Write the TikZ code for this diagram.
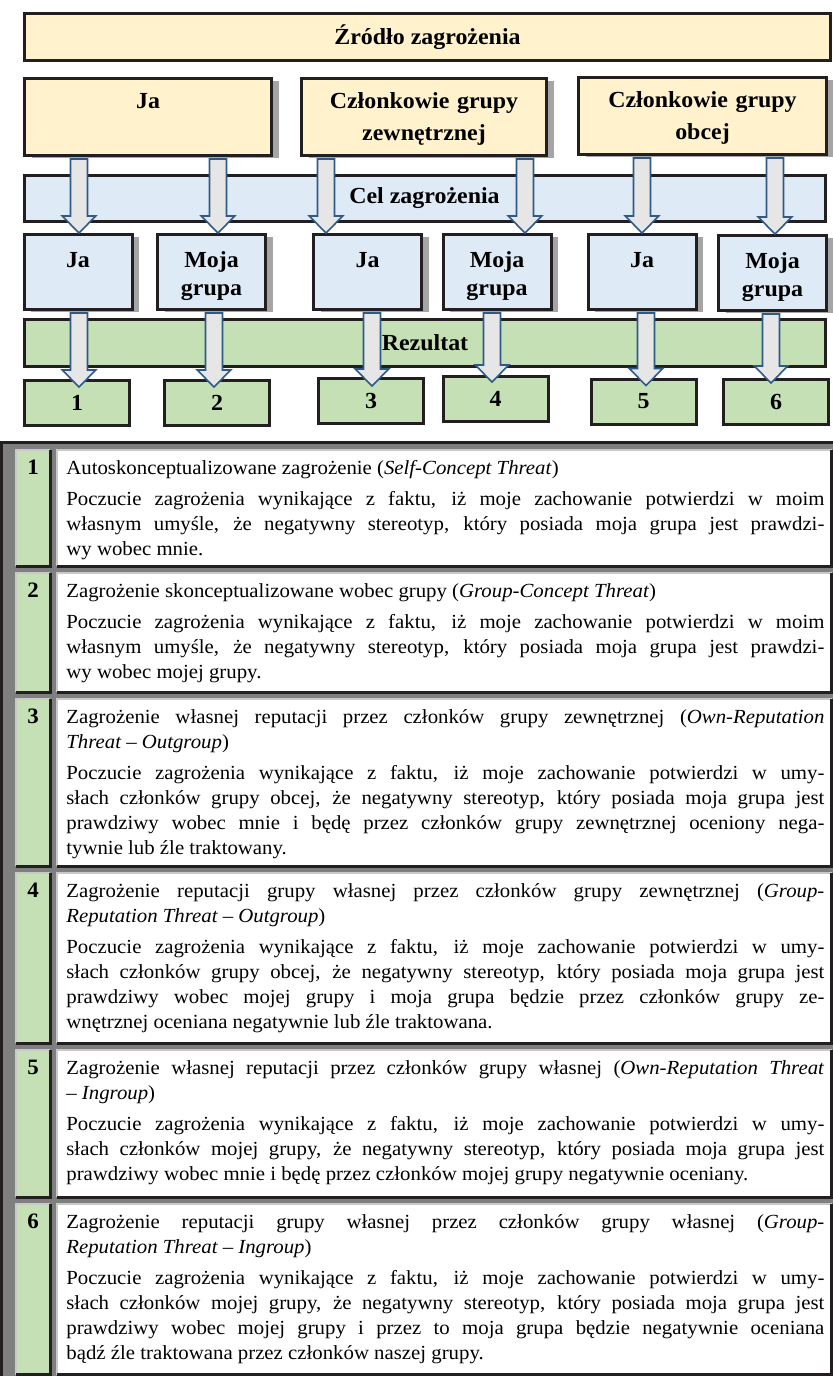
\documentclass[tikz,border=0pt]{standalone}
\usepackage{fontspec}
\setmainfont{Liberation Serif}[FakeStretch=1.04]
\usepackage{tikz}
\usetikzlibrary{positioning,calc,shadows}
\definecolor{srcYellow}{HTML}{FFF2CC}
\definecolor{tgtBlue}{HTML}{DEEBF7}
\definecolor{resGreen}{HTML}{C5E0B4}
\definecolor{edgeDark}{HTML}{231F20}
\definecolor{shadowGray}{HTML}{A5A5A5}
\definecolor{arrowFill}{HTML}{E7E6E6}
\definecolor{arrowLine}{HTML}{2E5A88}
\definecolor{tabGray}{HTML}{7F7F7F}
\definecolor{tabLight}{HTML}{C9C9C9}
\tolerance=10000
\hbadness=10000
\hyphenpenalty=10000

\tikzset{
  bar/.style={draw=edgeDark, line width=1.5pt, inner sep=0pt, font=\fontsize{11.5}{14}\selectfont\bfseries},
  boxshadow/.style={drop shadow={shadow xshift=3.5pt, shadow yshift=-1pt, fill=shadowGray, opacity=1}},
  srcbox/.style={draw=edgeDark, fill=srcYellow, line width=1.5pt, inner sep=0pt, align=center,
    text height=14.75pt, text depth=23.75pt, font=\fontsize{11.5}{16}\selectfont\bfseries, boxshadow},
  tgtbox/.style={draw=edgeDark, fill=tgtBlue, line width=1.5pt, inner sep=0pt, align=center, text width=54pt,
    text height=16.25pt, text depth=21.25pt, font=\fontsize{11.5}{14}\selectfont\bfseries, boxshadow},
  resbox/.style={draw=edgeDark, fill=resGreen, line width=1.5pt, inner sep=0pt, minimum width=52.5pt,
    minimum height=22.5pt, font=\fontsize{11.5}{14}\selectfont\bfseries},
  blockarrow/.style={fill=arrowFill, draw=arrowLine, line width=0.8pt, line join=miter},
  desc/.style={anchor=north west, inner sep=0pt, text width=379pt, align=justify, font=\fontsize{10}{12.5}\selectfont},
  num/.style={anchor=base, inner sep=0pt, font=\fontsize{11}{12.5}\selectfont\bfseries},
  lightedge/.style={draw=tabLight, line width=1pt},
  darkedge/.style={draw=edgeDark, line width=1.5pt}
}

% block arrow: x, source node, target node, overlap of the tip
\newcommand{\bigarrow}[4]{%
  \path (#2.south -| #1,0) coordinate (s) (#3.north -| #1,0) coordinate (t);
  \draw[blockarrow] ($(s)+(-8.5,2)$) -- ($(t)+(-8.5,#4-17)$) -- ($(t)+(-16.75,#4-17)$) -- ($(t)+(0,#4)$)
    -- ($(t)+(16.75,#4-17)$) -- ($(t)+(8.5,#4-17)$) -- ($(s)+(8.5,2)$) -- cycle;
}

% table cell: x1, y1, x2, y2, fill
\newcommand{\tabcell}[5]{%
  \fill[#5] (#1,#2) rectangle (#3,#4);
  \draw[lightedge] (#1,#4) -- (#1,#2) -- (#3,#2);
  \draw[darkedge] (#1,#4) -- (#3,#4) -- (#3,#2);
}

\begin{document}
\begin{tikzpicture}[x=0.5pt, y=-0.5pt]
\useasboundingbox (0,0) rectangle (833,1376);

% source of the threat
\node[bar, fill=srcYellow, minimum width=403pt, minimum height=23.5pt] (zrodlo) at (427.5,37) {Źródło zagrożenia};
\node[srcbox, text width=123.5pt] (srcJa) at (148,117) {Ja};
\node[srcbox, text width=122.5pt] (srcZewn) at (424,117) {Członkowie grupy\\zewnętrznej};
\node[srcbox, text width=124pt] (srcObca) at (702.5,116) {Członkowie grupy\\obcej};

% target of the threat
\node[bar, fill=tgtBlue, minimum width=400.5pt, minimum height=23pt] (cel) at (424.5,198) {Cel zagrożenia};
\node[tgtbox] (tgtJa1) at (78,272) {Ja};
\node[tgtbox] (tgtGr1) at (211.5,272) {Moja\\grupa};
\node[tgtbox] (tgtJa2) at (367.5,272) {Ja};
\node[tgtbox] (tgtGr2) at (497,272) {Moja\\grupa};
\node[tgtbox] (tgtJa3) at (642,272) {Ja};
\node[tgtbox] (tgtGr3) at (772.5,273) {Moja\\grupa};

% result
\node[bar, fill=resGreen, minimum width=400.5pt, minimum height=23.5pt] (rezultat) at (425,342.5) {Rezultat};
\node[resbox] (res1) at (77,403) {1};
\node[resbox] (res2) at (217,403) {2};
\node[resbox] (res3) at (371,401) {3};
\node[resbox] (res4) at (495.5,399) {4};
\node[resbox] (res5) at (643.5,401.5) {5};
\node[resbox] (res6) at (776,402) {6};

\bigarrow{79}{srcJa}{tgtJa1}{0}
\bigarrow{218}{srcJa}{tgtGr1}{0}
\bigarrow{326}{srcZewn}{tgtJa2}{0}
\bigarrow{525}{srcZewn}{tgtGr2}{0}
\bigarrow{642}{srcObca}{tgtJa3}{0}
\bigarrow{775}{srcObca}{tgtGr3}{0}
\bigarrow{79}{tgtJa1}{res1}{8}
\bigarrow{214}{tgtGr1}{res2}{8}
\bigarrow{372}{tgtJa2}{res3}{9}
\bigarrow{492}{tgtGr2}{res4}{7}
\bigarrow{646}{tgtJa3}{res5}{8}
\bigarrow{771}{tgtGr3}{res6}{5}

% table of the six threats
\fill[tabGray] (0,441) rectangle (833,1376);
\draw[darkedge] (1.5,1376) -- (1.5,442.5) -- (833,442.5);
\tabcell{16}{450}{50}{566}{resGreen}
\tabcell{57}{450}{831.5}{566}{white}
\tabcell{16}{573}{50}{692}{resGreen}
\tabcell{57}{573}{831.5}{692}{white}
\tabcell{16}{699}{50}{866}{resGreen}
\tabcell{57}{699}{831.5}{866}{white}
\tabcell{16}{873}{50}{1043}{resGreen}
\tabcell{57}{873}{831.5}{1043}{white}
\tabcell{16}{1050}{50}{1197}{resGreen}
\tabcell{57}{1050}{831.5}{1197}{white}
\tabcell{16}{1204}{50}{1374.5}{resGreen}
\tabcell{57}{1204}{831.5}{1374.5}{white}

\node[desc] (d1) at (66,460) {Autoskonceptualizowane zagrożenie (\textit{Self-Concept Threat})\par\vspace{3pt}
Poczucie zagrożenia wynikające z faktu, iż moje zachowanie potwierdzi w moim\linebreak
własnym umyśle, że negatywny stereotyp, który posiada moja grupa jest prawdzi-\linebreak
wy wobec mnie.};
\node[desc] (d2) at (66,583) {Zagrożenie skonceptualizowane wobec grupy (\textit{Group-Concept Threat})\par\vspace{3pt}
Poczucie zagrożenia wynikające z faktu, iż moje zachowanie potwierdzi w moim\linebreak
własnym umyśle, że negatywny stereotyp, który posiada moja grupa jest prawdzi-\linebreak
wy wobec mojej grupy.};
\node[desc] (d3) at (66,709) {Zagrożenie własnej reputacji przez członków grupy zewnętrznej (\textit{Own-Reputation}\linebreak
\textit{Threat – Outgroup})\par\vspace{3pt}
Poczucie zagrożenia wynikające z faktu, iż moje zachowanie potwierdzi w umy-\linebreak
słach członków grupy obcej, że negatywny stereotyp, który posiada moja grupa jest\linebreak
prawdziwy wobec mnie i będę przez członków grupy zewnętrznej oceniony nega-\linebreak
tywnie lub źle traktowany.};
\node[desc] (d4) at (66,883) {Zagrożenie reputacji grupy własnej przez członków grupy zewnętrznej (\textit{Group-}\linebreak
\textit{Reputation Threat – Outgroup})\par\vspace{3pt}
Poczucie zagrożenia wynikające z faktu, iż moje zachowanie potwierdzi w umy-\linebreak
słach członków grupy obcej, że negatywny stereotyp, który posiada moja grupa jest\linebreak
prawdziwy wobec mojej grupy i moja grupa będzie przez członków grupy ze-\linebreak
wnętrznej oceniana negatywnie lub źle traktowana.};
\node[desc] (d5) at (66,1060) {Zagrożenie własnej reputacji przez członków grupy własnej (\textit{Own-Reputation Threat}\linebreak
\textit{– Ingroup})\par\vspace{3pt}
Poczucie zagrożenia wynikające z faktu, iż moje zachowanie potwierdzi w umy-\linebreak
słach członków mojej grupy, że negatywny stereotyp, który posiada moja grupa jest\linebreak
prawdziwy wobec mnie i będę przez członków mojej grupy negatywnie oceniany.};
\node[desc] (d6) at (66,1214) {Zagrożenie reputacji grupy własnej przez członków grupy własnej (\textit{Group-}\linebreak
\textit{Reputation Threat – Ingroup})\par\vspace{3pt}
Poczucie zagrożenia wynikające z faktu, iż moje zachowanie potwierdzi w umy-\linebreak
słach członków mojej grupy, że negatywny stereotyp, który posiada moja grupa jest\linebreak
prawdziwy wobec mojej grupy i przez to moja grupa będzie negatywnie oceniana\linebreak
bądź źle traktowana przez członków naszej grupy.};

\node[num] (k1) at ([xshift=-16.5pt]d1.base west) {1};
\node[num] (k2) at ([xshift=-16.5pt]d2.base west) {2};
\node[num] (k3) at ([xshift=-16.5pt]d3.base west) {3};
\node[num] (k4) at ([xshift=-16.5pt]d4.base west) {4};
\node[num] (k5) at ([xshift=-16.5pt]d5.base west) {5};
\node[num] (k6) at ([xshift=-16.5pt]d6.base west) {6};
\end{tikzpicture}
\end{document}
